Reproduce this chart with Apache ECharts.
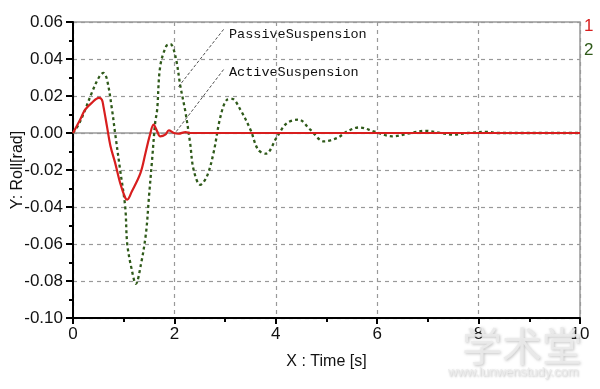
<!DOCTYPE html>
<html><head><meta charset="utf-8">
<script src="https://cdn.jsdelivr.net/npm/echarts@6/dist/echarts.min.js"></script>
<style>html,body{margin:0;padding:0;background:#fff}#c{width:600px;height:389px}</style>
</head><body><div id="c"></div>
<script>
const passiveT = [0, 0.11, 0.24, 0.37, 0.51, 0.6, 0.67, 0.77, 0.83, 0.93, 1.03, 1.07, 1.16, 1.24, 1.34, 1.44, 1.5, 1.56, 1.62, 1.66, 1.72, 1.84, 1.92, 2.02, 2.12, 2.22, 2.31, 2.38, 2.51, 2.64, 2.77, 2.91, 3.04, 3.14, 3.3, 3.5, 3.65, 3.8, 4.03, 4.22, 4.45, 4.68, 4.95, 5.21, 5.41, 5.64, 5.93, 6.2, 6.3, 6.66, 6.95, 7.25, 7.5, 7.78, 8.17, 8.37, 9, 10];
const passiveV = [0, 0.0045, 0.0126, 0.0217, 0.03, 0.0325, 0.029, 0.0126, 0, -0.02, -0.04, -0.06, -0.074, -0.0815, -0.071, -0.054, -0.034, -0.0145, 0.0054, 0.0126, 0.036, 0.047, 0.048, 0.0415, 0.025, 0.011, -0.0054, -0.02, -0.028, -0.0235, -0.011, 0.009, 0.018, 0.0184, 0.0126, 0.0018, -0.009, -0.0112, -0.0018, 0.0054, 0.0072, 0.0018, -0.0045, -0.0027, 0.0009, 0.003, 0.0009, -0.0015, -0.0018, 0, 0.0012, 0, -0.0009, 0, 0.0006, 0, 0, 0];
const activeT = [0, 0.14, 0.24, 0.37, 0.51, 0.57, 0.6, 0.67, 0.74, 0.83, 0.93, 1.03, 1.07, 1.16, 1.33, 1.43, 1.51, 1.59, 1.66, 1.72, 1.82, 1.89, 1.99, 2.08, 2.22, 2.31, 10];
const activeV = [0, 0.0072, 0.0126, 0.0163, 0.019, 0.018, 0.0144, 0.0036, -0.0072, -0.016, -0.027, -0.035, -0.036, -0.0316, -0.0217, -0.0108, -0.0018, 0.0045, 0.0009, -0.0018, -0.0009, 0.0014, 0, -0.0004, 0.0005, 0, 0];
const zeroLineT = [0, 10];
const zeroLineV = [0, 0];
const seriesNames = ['1', '2'];
const annotations = ['PassiveSuspension', 'ActiveSuspension'];
const xTitle = 'X : Time [s]';
const yTitle = 'Y: Roll[rad]';

const RED = '#d81e1e', GREEN = '#2f5a1a';
const tickFont = {fontFamily: '"Liberation Sans Narrow", "Liberation Sans", Arial, sans-serif', fontSize: 17, color: '#111'};
const chart = echarts.init(document.getElementById('c'));
chart.setOption({
  animation: false,
  grid: {left: 73, right: 20, top: 22, bottom: 71, show: true, borderColor: '#999', borderWidth: 1.5, containLabel: false, outerBoundsMode: 'none'},
  xAxis: {
    type: 'value', min: 0, max: 10, interval: 2,
    name: xTitle, nameLocation: 'middle', nameGap: 36,
    nameTextStyle: {fontFamily: '"Liberation Sans Narrow", "Liberation Sans", Arial', fontSize: 16, color: '#111'},
    axisLine: {show: true, onZero: false, lineStyle: {color: '#000', width: 2}},
    axisTick: {show: true, length: 6, lineStyle: {color: '#000', width: 2}},
    minorTick: {show: true, splitNumber: 2, length: 4, lineStyle: {color: '#000', width: 2}},
    axisLabel: Object.assign({margin: 8}, tickFont),
    splitLine: {show: true, lineStyle: {color: '#999', type: [4, 4], width: 1.2}}
  },
  yAxis: {
    type: 'value', min: -0.1, max: 0.06, interval: 0.02,
    axisLine: {show: true, onZero: false, lineStyle: {color: '#000', width: 2}},
    axisTick: {show: true, length: 7, lineStyle: {color: '#000', width: 2}},
    minorTick: {show: true, splitNumber: 2, length: 4, lineStyle: {color: '#000', width: 2}},
    axisLabel: Object.assign({margin: 10, formatter: v => v.toFixed(2)}, tickFont),
    splitLine: {show: true, lineStyle: {color: '#999', type: [4, 4], width: 1.2}}
  },
  series: [
    {
      name: 'zero', type: 'line', symbol: 'none', silent: true, z: 1,
      data: zeroLineT.map((t, i) => [t, zeroLineV[i]]),
      lineStyle: {color: '#999', width: 1.5},
      markLine: {
        silent: true, symbol: 'none', label: {show: false},
        data: [
          [{coord: [2.97, 0.056], lineStyle: {color: '#222', type: [3, 2], width: 0.8}}, {coord: [2.08, 0.025]}],
          [{coord: [2.97, 0.0343], lineStyle: {color: '#222', type: [3, 2], width: 0.8}}, {coord: [2.02, 0.0002]}]
        ]
      }
    },
    {
      name: seriesNames[1], type: 'line', smooth: 0.35, symbol: 'none',
      data: passiveT.map((t, i) => [t, passiveV[i]]),
      lineStyle: {color: GREEN, width: 2.3, type: [3, 3]},
      z: 2
    },
    {
      name: seriesNames[0], type: 'line', smooth: 0.35, symbol: 'none',
      data: activeT.map((t, i) => [t, activeV[i]]),
      lineStyle: {color: RED, width: 2.2},
      z: 3
    }
  ],
  graphic: [
    {type: 'text', x: 18, y: 170, rotation: Math.PI / 2, style: {text: yTitle, font: '16px "Liberation Sans Narrow", "Liberation Sans", Arial', fill: '#111', textAlign: 'center', textVerticalAlign: 'middle'}},
    {type: 'text', left: 229, top: 27, style: {text: annotations[0], font: '13.5px "Liberation Mono", monospace', fill: '#111'}},
    {type: 'text', left: 229, top: 65, style: {text: annotations[1], font: '13.5px "Liberation Mono", monospace', fill: '#111'}},
    {type: 'text', left: 584, top: 18, style: {text: seriesNames[0], font: '17px "Liberation Sans", Arial', fill: RED}},
    {type: 'text', left: 584, top: 42, style: {text: seriesNames[1], font: '17px "Liberation Sans", Arial', fill: GREEN}},
    {type: 'text', left: 462, top: 326, style: {text: '学术堂', font: '40px "Noto Sans CJK SC"', fill: 'rgba(235,235,235,0.9)', textShadowColor: 'rgba(120,120,120,0.5)', textShadowBlur: 3, textShadowOffsetX: 1, textShadowOffsetY: 1}, z: 10},
    {type: 'text', left: 448, top: 366, style: {text: 'www.lunwenstudy.com', font: '13px "Liberation Sans"', fill: 'rgba(235,235,235,0.9)', textShadowColor: 'rgba(120,120,120,0.5)', textShadowBlur: 2, textShadowOffsetX: 1, textShadowOffsetY: 1}, z: 10}
  ]
});
</script></body></html>
